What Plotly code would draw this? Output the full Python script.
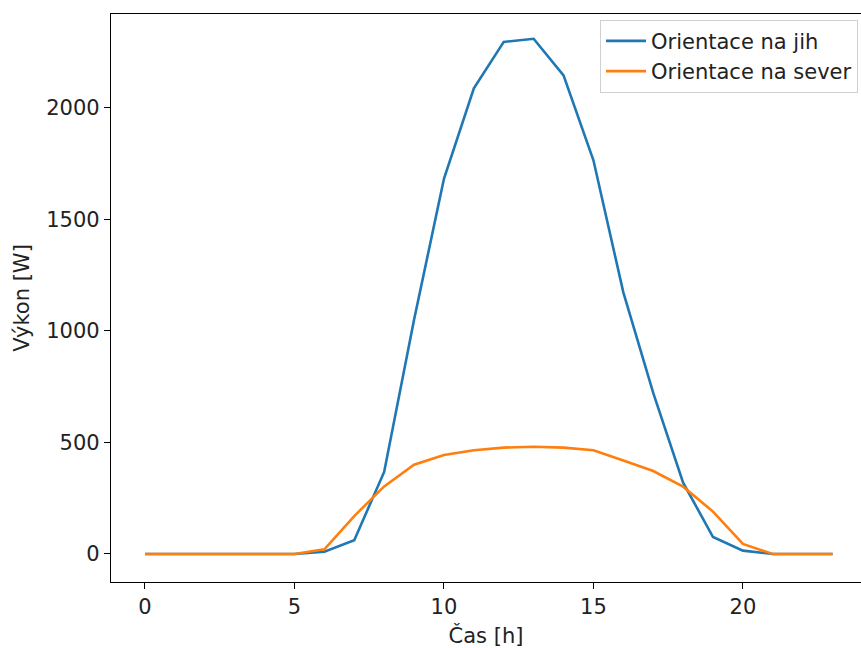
import plotly.graph_objects as go

hours = list(range(24))
south = [0, 0, 0, 0, 0, 0, 10, 62, 368, 1050, 1682, 2088, 2296, 2310, 2146, 1765, 1173, 722, 320, 76, 15, 0, 0, 0]
north = [0, 0, 0, 0, 0, 0, 21, 170, 303, 400, 444, 465, 477, 481, 477, 465, 419, 372, 302, 190, 45, 0, 0, 0]
names = ["Orientace na jih", "Orientace na sever"]
colors = ["#1f77b4", "#ff7f0e"]

fig = go.Figure()
for name, vals, col in zip(names, [south, north], colors):
    fig.add_trace(go.Scatter(x=hours, y=vals, mode="lines", name=name,
                             line=dict(color=col, width=2.6)))

font = dict(family="DejaVu Sans", size=21, color="#222")
fig.update_layout(
    width=861, height=648,
    margin=dict(l=111, r=0, t=14, b=66),
    plot_bgcolor="white", paper_bgcolor="white",
    font=font,
    showlegend=True,
    hovermode=False,
    legend=dict(x=0.996, xanchor="right", y=0.99, yanchor="top",
                bgcolor="rgba(255,255,255,0.8)", bordercolor="#d0d0d0", borderwidth=1,
                font=font, itemwidth=40),
)
fig.update_xaxes(range=[-1.137, 23.95], tickvals=[0, 5, 10, 15, 20],
                 showgrid=False, zeroline=False, showline=True, mirror=True,
                 linecolor="black", linewidth=1.2, ticks="outside", ticklen=6,
                 tickcolor="black", tickwidth=1.2, automargin=False,
                 title=dict(text="Čas [h]", standoff=11, font=font))
fig.update_yaxes(range=[-125.6, 2421], tickvals=[0, 500, 1000, 1500, 2000],
                 showgrid=False, zeroline=False, showline=True, mirror=False,
                 linecolor="black", linewidth=1.2, ticks="outside", ticklen=6,
                 tickcolor="black", tickwidth=1.2, automargin=False,
                 title=dict(text="Výkon [W]", standoff=10, font=font))

fig.write_html("out.html", config={"displayModeBar": False},
               post_script="document.body.style.margin='0';document.body.style.overflow='hidden';")
